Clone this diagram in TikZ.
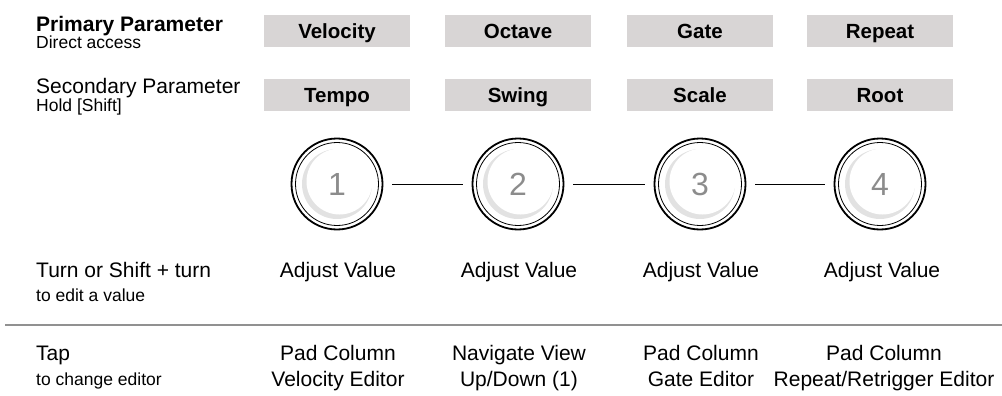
\documentclass[tikz,border=0pt]{standalone}
\usepackage{fontspec}
\setmainfont{Liberation Sans}
\usepackage{xcolor}
\usepackage{tikz}
\usetikzlibrary{positioning}

\definecolor{boxgray}{RGB}{216,213,213}
\definecolor{ringgray}{RGB}{226,226,226}
\definecolor{numgray}{RGB}{140,140,140}
\definecolor{rulegray}{RGB}{145,145,145}

\begin{document}
\begin{tikzpicture}[
    x=1pt, y=-1pt,
    param/.style={rectangle, fill=boxgray, minimum width=146pt, minimum height=32pt,
                  inner sep=0pt, text height=15pt, text depth=0pt,
                  font=\fontsize{20.5}{24}\selectfont\bfseries},
    knob/.style={circle, draw, line width=1.8pt, minimum size=91pt, inner sep=0pt,
                 text=numgray, font=\fontsize{32}{32}\selectfont,
                 path picture={
                   \fill[ringgray] (path picture bounding box.center) circle (35pt);
                   \fill[white] ([shift={(2.5pt,2.5pt)}]path picture bounding box.center) circle (33pt);
                   \draw[line width=0.8pt] (path picture bounding box.center) circle (41.5pt);
                 }},
    head/.style={anchor=base west, inner sep=0pt, font=\fontsize{21}{24}\selectfont},
    sub/.style={anchor=base west, inner sep=0pt, font=\fontsize{17.5}{20}\selectfont},
    act/.style={anchor=base, inner sep=0pt, align=center, font=\fontsize{21}{26}\selectfont},
    link/.style={line width=0.9pt, shorten >=9pt, shorten <=9pt},
]
    \useasboundingbox (0,0) rectangle (1002,396);

    % row labels
    \node[head, font=\fontsize{21}{24}\selectfont\bfseries] (prim) at (36,32) {Primary Parameter};
    \node[sub] (primsub) at (36,49) {Direct access};
    \node[head] (sec) at (36,94) {Secondary Parameter};
    \node[sub] (secsub) at (36,111) {Hold [Shift]};
    \node[head] (turn) at (36,277) {Turn or Shift + turn};
    \node[sub] (turnsub) at (36,301) {to edit a value};
    \node[head] (tap) at (36,360) {Tap};
    \node[sub] (tapsub) at (36,385) {to change editor};

    % parameter boxes
    \node[param] (velo) at (337,31) {Velocity};
    \node[param] (oct) at (518,31) {Octave};
    \node[param] (gate) at (700,31) {Gate};
    \node[param] (rep) at (880,31) {Repeat};
    \node[param] (tempo) at (337,95) {Tempo};
    \node[param] (swing) at (518,95) {Swing};
    \node[param] (scale) at (700,95) {Scale};
    \node[param] (root) at (880,95) {Root};

    % encoders
    \node[knob] (k1) at (337,184) {1};
    \node[knob] (k2) at (518,184) {2};
    \node[knob] (k3) at (700,184) {3};
    \node[knob] (k4) at (880,184) {4};

    \draw[link] (k1) -- (k2);
    \draw[link] (k2) -- (k3);
    \draw[link] (k3) -- (k4);

    % turn actions
    \node[act] (adj1) at (338,277) {Adjust Value};
    \node[act] (adj2) at (519,277) {Adjust Value};
    \node[act] (adj3) at (701,277) {Adjust Value};
    \node[act] (adj4) at (882,277) {Adjust Value};

    \draw[rulegray, line width=1.5pt] (5,325) -- (1002,325);

    % tap actions (base = last line)
    \node[act] (tap1) at (338,386) {Pad Column\\Velocity Editor};
    \node[act] (tap2) at (519,386) {Navigate View\\Up/Down (1)};
    \node[act] (tap3) at (701,386) {Pad Column\\Gate Editor};
    \node[act] (tap4) at (884,386) {Pad Column\\Repeat/Retrigger Editor};
\end{tikzpicture}
\end{document}
